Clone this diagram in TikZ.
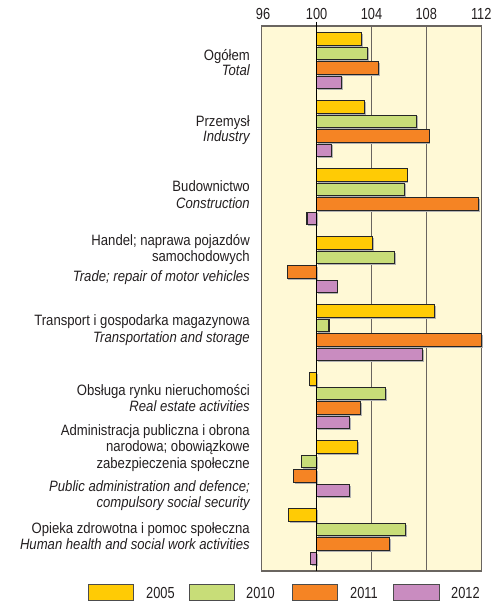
\documentclass[tikz,border=0pt]{standalone}
\usepackage{fontspec}
\setmainfont{Liberation Sans}[FakeStretch=0.875]
\newfontfamily\tickfont{Liberation Sans}[FakeStretch=0.8]
\definecolor{bgc}{HTML}{FFF9D6}
\definecolor{cyel}{HTML}{FFCB05}
\definecolor{cgrn}{HTML}{C8DD78}
\definecolor{corg}{HTML}{F58424}
\definecolor{cpur}{HTML}{C98CC0}
\definecolor{txt}{HTML}{231F20}
\definecolor{gridc}{HTML}{6A6560}
\tikzset{
  lbl/.style={anchor=base east, inner sep=0pt, text=txt, font=\fontsize{15}{17}\selectfont},
  lbli/.style={lbl, font=\fontsize{15}{17}\selectfont\itshape},
  tick/.style={anchor=base, inner sep=0pt, text=txt, font=\tickfont\fontsize{16}{18}\selectfont},
  legtxt/.style={anchor=base west, inner sep=0pt, text=txt, font=\tickfont\fontsize{16}{18}\selectfont},
  barline/.style={draw=black!85, line width=1.1pt},
  shadowc/.style={fill=black!30},
  gridline/.style={draw=gridc, line width=1.1pt},
  legbox/.style={draw=black!70, line width=1pt}
}
\newcommand\mybar[4]{%
  \pgfmathsetmacro\ytop{32.7+68*#1+14.5*#2}%
  \pgfmathsetmacro\xv{316.6+(#3-100)*13.72}%
  \fill[shadowc] (317.8,\ytop+1.3) rectangle (\xv+1.3,\ytop+14.0);%
  \draw[barline, fill=#4] (316.6,\ytop) rectangle (\xv,\ytop+12.7);%
}
\begin{document}
\begin{tikzpicture}[x=1pt, y=-1pt]
\useasboundingbox (0,0) rectangle (495,601);
% plot area
\fill[bgc] (261.7,26) rectangle (481.2,571);
\coordinate (g104t) at (371.5,26);
\coordinate (g104b) at (371.5,571);
\coordinate (g108t) at (426.3,26);
\coordinate (g108b) at (426.3,571);
\draw[gridline] (g104t) -- (g104b);
\draw[gridline] (g108t) -- (g108b);
\draw[gridline] (261.7,26) rectangle (481.2,571);
% tick labels
\node[tick] (t96) at (263,20) {96};
\node[tick] (t100) at (316.6,20) {100};
\node[tick] (t104) at (371.5,20) {104};
\node[tick] (t108) at (426.3,20) {108};
\node[tick] (t112) at (481.2,20) {112};
% bars
\mybar{0}{0}{103.3}{cyel}
\mybar{0}{1}{103.7}{cgrn}
\mybar{0}{2}{104.5}{corg}
\mybar{0}{3}{101.8}{cpur}
\mybar{1}{0}{103.47}{cyel}
\mybar{1}{1}{107.3}{cgrn}
\mybar{1}{2}{108.2}{corg}
\mybar{1}{3}{101.1}{cpur}
\mybar{2}{0}{106.6}{cyel}
\mybar{2}{1}{106.4}{cgrn}
\mybar{2}{2}{111.8}{corg}
\mybar{2}{3}{99.3}{cpur}
\mybar{3}{0}{104.1}{cyel}
\mybar{3}{1}{105.7}{cgrn}
\mybar{3}{2}{97.85}{corg}
\mybar{3}{3}{101.5}{cpur}
\mybar{4}{0}{108.6}{cyel}
\mybar{4}{1}{100.9}{cgrn}
\mybar{4}{2}{112.0}{corg}
\mybar{4}{3}{107.7}{cpur}
\mybar{5}{0}{99.46}{cyel}
\mybar{5}{1}{105.0}{cgrn}
\mybar{5}{2}{103.2}{corg}
\mybar{5}{3}{102.4}{cpur}
\mybar{6}{0}{103.0}{cyel}
\mybar{6}{1}{98.9}{cgrn}
\mybar{6}{2}{98.3}{corg}
\mybar{6}{3}{102.4}{cpur}
\mybar{7}{0}{97.98}{cyel}
\mybar{7}{1}{106.5}{cgrn}
\mybar{7}{2}{105.3}{corg}
\mybar{7}{3}{99.58}{cpur}
% zero line
\coordinate (z0) at (316.6,22);
\coordinate (z1) at (316.6,571);
\draw[black, line width=1.2pt] (z0) -- (z1);
% category labels
\node[lbl]  (c1a) at (250,61) {Ogółem};
\node[lbli] (c1b) at (250,76) {Total};
\node[lbl]  (c2a) at (250,127) {Przemysł};
\node[lbli] (c2b) at (250,142) {Industry};
\node[lbl]  (c3a) at (250,192) {Budownictwo};
\node[lbli] (c3b) at (250,209) {Construction};
\node[lbl]  (c4a) at (250,245.5) {Handel; naprawa pojazdów};
\node[lbl]  (c4b) at (250,261) {samochodowych};
\node[lbli] (c4c) at (250,281) {Trade; repair of motor vehicles};
\node[lbl]  (c5a) at (250,325) {Transport i gospodarka magazynowa};
\node[lbli] (c5b) at (250,342) {Transportation and storage};
\node[lbl]  (c6a) at (250,395) {Obsługa rynku nieruchomości};
\node[lbli] (c6b) at (250,411) {Real estate activities};
\node[lbl]  (c7a) at (250,435.5) {Administracja publiczna i obrona};
\node[lbl]  (c7b) at (250,451.5) {narodowa; obowiązkowe};
\node[lbl]  (c7c) at (250,468) {zabezpieczenia społeczne};
\node[lbli] (c7d) at (250,491) {Public administration and defence;};
\node[lbli] (c7e) at (250,507.5) {compulsory social security};
\node[lbl]  (c8a) at (250,533) {Opieka zdrowotna i pomoc społeczna};
\node[lbli] (c8b) at (250,549) {Human health and social work activities};
% legend
\draw[legbox, fill=cyel] (88,584) rectangle (133,600.3);
\node[legtxt] (y05) at (146,598.8) {2005};
\draw[legbox, fill=cgrn] (189,584) rectangle (234,600.3);
\node[legtxt] (y10) at (246,598.8) {2010};
\draw[legbox, fill=corg] (292,584) rectangle (337,600.3);
\node[legtxt] (y11) at (350,598.8) {2011};
\draw[legbox, fill=cpur] (393,584) rectangle (439,600.3);
\node[legtxt] (y12) at (451,598.8) {2012};
\end{tikzpicture}
\end{document}
